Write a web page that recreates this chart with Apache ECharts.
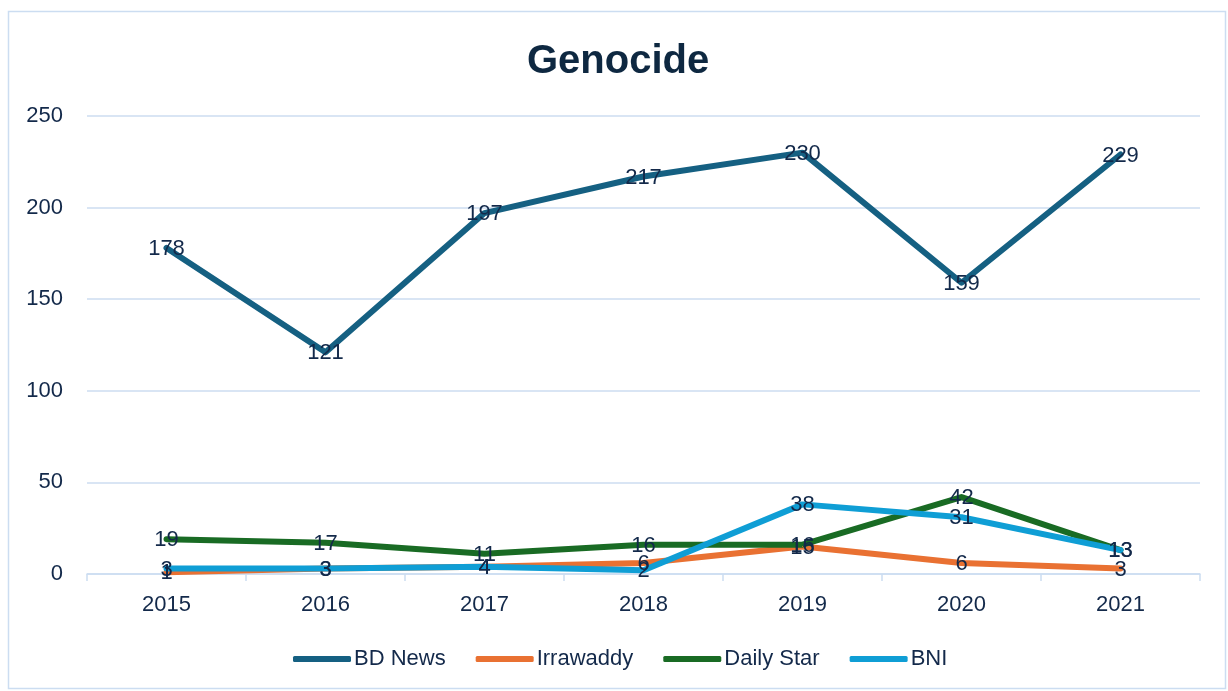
<!DOCTYPE html>
<html><head><meta charset="utf-8">
<script src="https://cdn.jsdelivr.net/npm/echarts@6/dist/echarts.min.js"></script>
<style>html,body{margin:0;padding:0;background:#fff}#c{width:1228px;height:691px}</style>
</head><body><div id="c"></div>
<script>
const categories = ['2015','2016','2017','2018','2019','2020','2021'];
const bdNews = [178,121,197,217,230,159,229];
const irrawaddy = [1,3,4,6,15,6,3];
const dailyStar = [19,17,11,16,16,42,13];
const bni = [3,3,4,2,38,31,13];
const yTicks = [0,50,100,150,200,250];

const txt = '#13294A';
const font = 'Liberation Sans, Arial, sans-serif';
const gridColor = '#CCDDF1';
function s(name, data, color){
  return {name, type:'line', data, symbol:'circle', symbolSize:1,
    lineStyle:{width:6,color, cap:'round', join:'round'}, itemStyle:{color},
    label:{show:true, position:'inside', offset:[0,1], color:txt, fontSize:22, fontFamily:font},
    emphasis:{disabled:true}};
}
const chart = echarts.init(document.getElementById('c'));
chart.setOption({
  animation:false,
  graphic:[{type:'rect', shape:{x:8.5,y:11.5,width:1217,height:677}, style:{fill:'none', stroke:gridColor, lineWidth:1.5}}],
  title:{text:'Genocide', left:527, top:42, padding:0, textStyle:{fontSize:40, fontWeight:'bold', color:'#0E2841', fontFamily:font}},
  legend:{top:648, left:293, padding:0, itemWidth:58, itemHeight:6, itemGap:30, icon:'roundRect',
    textStyle:{fontSize:22, color:txt, fontFamily:font, padding:[0,0,0,-2]},
    data:['BD News','Irrawaddy','Daily Star','BNI']},
  grid:{left:87, right:28, top:116, bottom:117},
  xAxis:{type:'category', data:categories, boundaryGap:true,
    axisLine:{lineStyle:{color:gridColor, width:1.5}},
    axisTick:{show:true, length:7, lineStyle:{color:gridColor, width:1.5}},
    axisLabel:{color:txt, fontSize:22, fontFamily:font, margin:20}},
  yAxis:{type:'value', min:yTicks[0], max:yTicks[yTicks.length-1], interval:50,
    axisLine:{show:false}, axisTick:{show:false},
    splitLine:{lineStyle:{color:gridColor, width:1.5}},
    axisLabel:{color:txt, fontSize:22, fontFamily:font, margin:24}},
  series:[
    s('BD News', bdNews, '#156082'),
    s('Irrawaddy', irrawaddy, '#E97132'),
    s('Daily Star', dailyStar, '#196B24'),
    s('BNI', bni, '#0F9ED5')
  ]
});
</script></body></html>
